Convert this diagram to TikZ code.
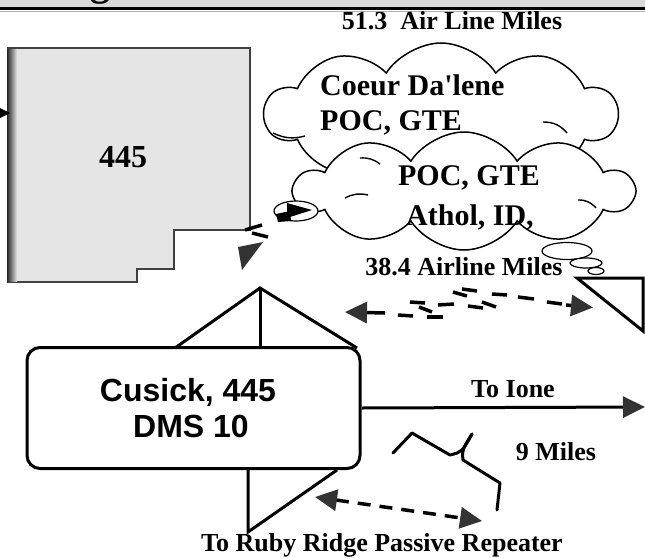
\documentclass[tikz,border=0pt]{standalone}
\usepackage{fontspec}
\setmainfont{Liberation Serif}
\newfontfamily\arialfont{Liberation Sans}
\usetikzlibrary{arrows.meta,shapes.symbols,shapes.geometric}
\begin{document}
\begin{tikzpicture}[x=1pt,y=-1pt,
  lbl/.style={font=\bfseries\fontsize{26}{30}\selectfont, inner sep=0pt, anchor=base},
  cloudtxt/.style={font=\bfseries\fontsize{30}{34}\selectfont, inner sep=0pt},
  sanstxt/.style={font=\arialfont\bfseries\fontsize{32}{36}\selectfont, inner sep=0pt, anchor=base},
  heavy/.style={line width=3pt},
  bigtip/.style={-{Triangle[length=22pt,width=21pt,color=black!80]}},
  dashseg/.style={line width=3.5pt},
  puff/.style={cloud, cloud puffs=10, cloud puff arc=115, cloud ignores aspect, draw, fill=white, line width=1.5pt},
  innerarc/.style={line width=1.4pt},
  bubble/.style={draw, fill=white, line width=1.2pt}
]
\useasboundingbox (0,0) rectangle (645,557);
\clip (0,0) rectangle (645,557);

% top band
\fill[gray!30] (0,0) rectangle (645,7);
\fill[black] (0,7) rectangle (645,10);
\draw[gray!60, line width=0.6pt] (0,11) -- (645,11);
\node[font=\bfseries\fontsize{40}{44}\selectfont, anchor=base, inner sep=0pt] (gtitle) at (100,-5) {g};
\fill[gray!30] (0,-20) rectangle (645,0);

% gray area 445
\path[fill=gray!20, draw=black!75, line width=2pt] (8,48) -- (250,48) -- (250,230) -- (174,230) -- (174,269) -- (137,269) -- (137,282) -- (8,282) -- cycle;
\shade[left color=black!85, right color=gray!20] (7,49) rectangle (17,281);
\node[font=\bfseries\fontsize{32}{36}\selectfont, anchor=base, inner sep=0pt] (n445) at (123,167) {445};
\coordinate (leftin) at (10,113);
\fill[black] (-16,100) -- (leftin) -- (-16,126) -- cycle;

% clouds
\node[puff, minimum width=352pt, minimum height=142pt] (cloudA) at (441,114) {};
\draw[innerarc] (273,133) to[bend right=20] (305,136);
\draw[innerarc] (543,122) to[bend left=25] (567,133);
\node[puff, minimum width=338pt, minimum height=118pt] (cloudB) at (464,191) {};
\draw[innerarc] (345,198) to[bend left=20] (368,195);
\draw[innerarc] (578,200) to[bend left=25] (596,208);
\draw[innerarc] (360,158) to[bend left=20] (380,164);
\node[cloudtxt, anchor=base west] (coeur) at (320,95) {Coeur Da\textquotesingle lene};
\node[cloudtxt, anchor=base west] (poc1) at (320,130) {POC, GTE};
\node[cloudtxt, anchor=base] (poc2) at (469,185) {POC, GTE};
\node[cloudtxt, anchor=base] (athol) at (470,225) {Athol, ID,};

\node[lbl] (air51) at (452,29) {51.3\ \ Air Line Miles};

% small bubbles right
\draw[bubble] (567,251) ellipse [x radius=25, y radius=8.5];
\draw[bubble] (586,263) ellipse [x radius=16, y radius=5];
\draw[bubble] (596,271) ellipse [x radius=8, y radius=3.5];
\node[lbl] (air38) at (464,275) {38.4 Airline Miles};

% small bubble left with arrow
\draw[bubble] (296,211) ellipse [x radius=22, y radius=10];
\fill[black] (287,203) -- (312,210) -- (287,218) -- cycle;
\fill[black] (276,214) -- (290,211) -- (291,221) -- (278,222) -- cycle;
\draw[dashseg] (245,230) -- (262,225);
\draw[dashseg] (252,233) -- (268,237);
\fill[black!80] (238,247) -- (263,242) -- (242,270) -- cycle;

% Cusick box
\node[draw, heavy, rounded corners=13pt, minimum width=333pt, minimum height=121pt, inner sep=0pt] (cusick) at (193.5,408) {};
\node[sanstxt] (cus1) at (188,401) {Cusick, 445};
\node[sanstxt] (cus2) at (191,437) {DMS 10};

% triangles
\coordinate (apex) at (260,288);
\draw[heavy, line join=miter] (175,348) -- (apex) -- (357,348);
\draw[heavy] (apex) -- (260,348);
\draw[heavy, line join=miter] (248,470) -- (248,532) -- (337,470);
\draw[heavy, line join=miter] (577,278) -- (643,278) -- (643,331) -- cycle;

% To Ione
\coordinate (ione) at (645,407);
\draw[heavy, bigtip] (cusick.east) -- (ione);
\node[lbl] (toione) at (513,397) {To Ione};
\node[lbl] (nine) at (556,460) {9 Miles};

% squiggle
\draw[heavy, line join=round, line cap=round] (393,453) -- (412,433) -- (450,455) .. controls (462,452) .. (472,434);
\draw[heavy, line join=round, line cap=round] (472,434) .. controls (462,450) .. (463,460) -- (500,483) -- (497,510);

% upper dashed double arrow
\coordinate (ua1) at (385,313);
\coordinate (ua0) at (345,312);
\coordinate (ub1) at (566,305);
\coordinate (ub0) at (593,307.5);
\draw[dashseg, bigtip] (ua1) -- (ua0);
\draw[dashseg, bigtip] (ub1) -- (ub0);
\draw[dashseg] (398,315) -- (413,316);
\draw[dashseg] (427,317) -- (443,317);
\draw[dashseg] (410,302) -- (425,303);
\draw[dashseg] (419,307) -- (432,312);
\draw[dashseg] (438,305) -- (454,304);
\draw[dashseg] (468,306) -- (483,308);
\draw[dashseg] (453,292) -- (467,296);
\draw[dashseg] (462,289) -- (477,291);
\draw[dashseg] (482,302) -- (496,307);
\draw[dashseg] (492,294) -- (507,295);
\draw[dashseg] (518,297) -- (534,299);
\draw[dashseg] (547,302) -- (562,304);

% lower dashed double arrow
\coordinate (la) at (315,497);
\coordinate (lb) at (482,521);
\draw[dashseg, dash pattern=on 13pt off 9pt, {Triangle[length=22pt,width=21pt,color=black!80]}-{Triangle[length=22pt,width=21pt,color=black!80]}] (la) -- (lb);

\node[lbl] (ruby) at (382,551) {To Ruby Ridge Passive Repeater};
\end{tikzpicture}
\end{document}
